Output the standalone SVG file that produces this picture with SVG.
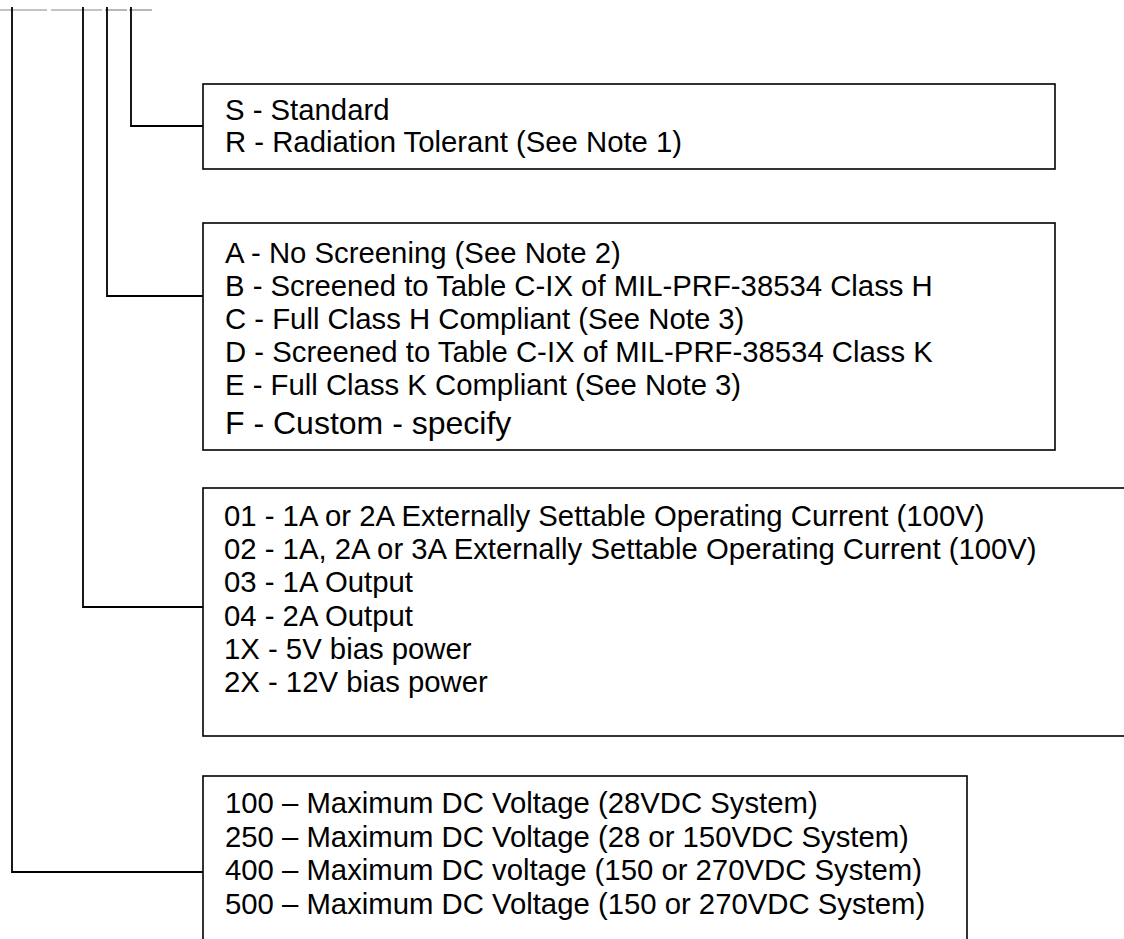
<svg xmlns="http://www.w3.org/2000/svg" width="1124" height="939" viewBox="0 0 1124 939">
<style>
.box{fill:#fff;stroke:#000;stroke-width:1.6}
.t{font-family:"Liberation Sans",Arial,sans-serif;font-size:29.3px;fill:#000}
.big{font-size:32px}
.conn{fill:none;stroke:#000;stroke-width:1.8}
.top{stroke:#888;stroke-width:1.2}
</style>
<rect width="1124" height="939" fill="#fff"/>
<g id="connectors">
<line class="top" x1="0" y1="10" x2="47" y2="10"/>
<line class="top" x1="51" y1="10" x2="102" y2="10"/>
<line class="top" x1="105" y1="10" x2="127" y2="10"/>
<line class="top" x1="129" y1="10" x2="152" y2="10"/>
<polyline class="conn" points="131,7 131,126 203,126"/>
<polyline class="conn" points="107,7 107,296 203,296"/>
<polyline class="conn" points="83,7 83,607 203,607"/>
<polyline class="conn" points="12,7 12,872 203,872"/>
</g>
<g id="node-type">
<rect class="box" x="203" y="84" width="852" height="85"/>
<text class="t" x="225" y="120">S - Standard</text>
<text class="t" x="225" y="152">R - Radiation Tolerant (See Note 1)</text>
</g>
<g id="node-screening">
<rect class="box" x="203" y="223" width="852" height="227"/>
<text class="t" x="225" y="263">A - No Screening (See Note 2)</text>
<text class="t" x="225" y="296">B - Screened to Table C-IX of MIL-PRF-38534 Class H</text>
<text class="t" x="225" y="329">C - Full Class H Compliant (See Note 3)</text>
<text class="t" x="225" y="362">D - Screened to Table C-IX of MIL-PRF-38534 Class K</text>
<text class="t" x="225" y="395">E - Full Class K Compliant (See Note 3)</text>
<text class="t big" x="225" y="434">F - Custom - specify</text>
</g>
<g id="node-current">
<rect class="box" x="203" y="488" width="940" height="248"/>
<text class="t" x="224" y="526">01 - 1A or 2A Externally Settable Operating Current (100V)</text>
<text class="t" x="224" y="559">02 - 1A, 2A or 3A Externally Settable Operating Current (100V)</text>
<text class="t" x="224" y="592">03 - 1A Output</text>
<text class="t" x="224" y="626">04 - 2A Output</text>
<text class="t" x="224" y="659">1X - 5V bias power</text>
<text class="t" x="224" y="692">2X - 12V bias power</text>
</g>
<g id="node-voltage">
<rect class="box" x="203" y="776" width="764" height="180"/>
<text class="t" x="225" y="813">100 – Maximum DC Voltage (28VDC System)</text>
<text class="t" x="225" y="847">250 – Maximum DC Voltage (28 or 150VDC System)</text>
<text class="t" x="225" y="880">400 – Maximum DC voltage (150 or 270VDC System)</text>
<text class="t" x="225" y="914">500 – Maximum DC Voltage (150 or 270VDC System)</text>
</g>
</svg>
